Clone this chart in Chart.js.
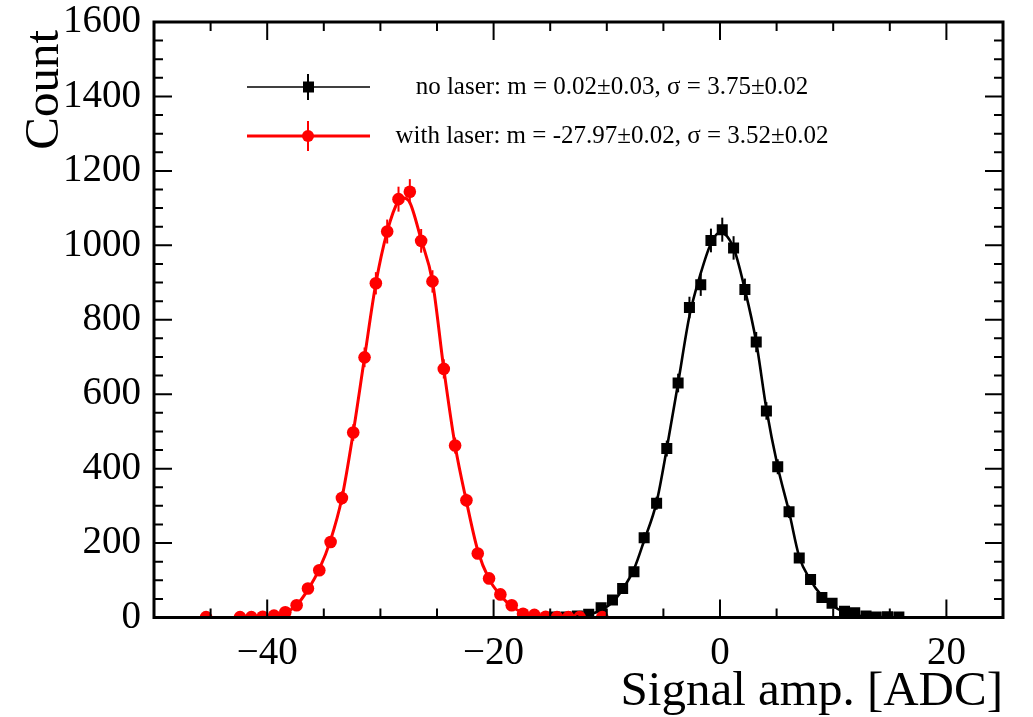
<!DOCTYPE html>
<html>
<head>
<meta charset="utf-8">
<script src="https://cdn.jsdelivr.net/npm/chart.js@4.4.0/dist/chart.umd.min.js"></script>
<style>
  body { margin: 0; background: #fff; }
  canvas { display: block; }
</style>
</head>
<body>
<canvas id="chart" width="1033" height="717"></canvas>
<script>
// histogram bins (empty bins are not drawn)
const redX = [-45.4, -42.4, -41.4, -40.4, -39.4, -38.4, -37.4, -36.4, -35.4, -34.4,
  -33.4, -32.4, -31.4, -30.4, -29.4, -28.4, -27.4, -26.4, -25.4, -24.4,
  -23.4, -22.4, -21.4, -20.4, -19.4, -18.4, -17.4, -16.4, -15.4, -14.4,
  -13.4, -12.4, -10.4];
const redCounts = [1, 1, 1, 2, 5, 14, 33, 78, 127, 203,
  321, 497, 699, 898, 1037, 1124, 1144, 1012, 903, 668,
  462, 315, 172, 105, 62, 33, 10, 7, 2, 1,
  1, 1, 1];

const blackX = [-14.6, -13.6, -12.6, -11.6, -10.5, -9.5, -8.6, -7.6, -6.7, -5.6,
  -4.7, -3.7, -2.7, -1.7, -0.8, 0.2, 1.2, 2.2, 3.2, 4.1,
  5.1, 6.1, 7.0, 8.0, 9.0, 9.9, 11.0, 11.9, 12.9, 13.8,
  14.8, 15.8];
const blackCounts = [1, 1, 4, 9, 26, 47, 78, 123, 214, 307,
  454, 630, 833, 894, 1013, 1042, 993, 881, 740, 555,
  405, 284, 160, 102, 54, 38, 17, 13, 4, 1,
  2, 1];

// gaussian fit curves
const redFitX = [-45.4, -42.4, -40.4, -39.4, -38.4, -37.4, -36.4, -35.4, -34.4, -33.4,
  -32.4, -31.4, -30.4, -29.4, -28.4, -27.97, -27.4, -26.4, -25.4, -24.4,
  -23.4, -22.4, -21.4, -20.4, -19.4, -18.4, -17.4, -16.4, -14.4, -12.4,
  -10.4];
const redFitY = [0, 0, 2, 5, 13, 33, 75, 130, 208, 321,
  497, 699, 898, 1037, 1120, 1127, 1115, 1015, 903, 668,
  462, 312, 180, 103, 60, 30, 13, 5, 1, 0,
  0];

const blackFitX = [-15.8, -14.6, -12.6, -11.6, -10.5, -9.5, -8.6, -7.6, -6.7, -5.6,
  -4.7, -3.7, -2.7, -1.7, -0.8, 0.0, 1.2, 2.2, 3.2, 4.1,
  5.1, 6.1, 7.0, 8.0, 9.0, 9.9, 11.0, 12.0, 13.0, 14.0,
  16.0];
const blackFitY = [0, 0, 3, 8, 20, 41, 76, 130, 207, 310,
  454, 630, 810, 925, 1005, 1035, 993, 881, 740, 560,
  405, 284, 163, 100, 58, 33, 14, 6, 2, 1,
  0];

const xTickValues = [-40, -20, 0, 20];
const yTickValues = [0, 200, 400, 600, 800, 1000, 1200, 1400, 1600];
const legendLabels = [
  'no laser: m = 0.02\u00b10.03, \u03c3 = 3.75\u00b10.02',
  'with laser: m = -27.97\u00b10.02, \u03c3 = 3.52\u00b10.02'
];
const xTitle = 'Signal amp. [ADC]';
const yTitle = 'Count';

const SERIF = '"Liberation Serif", "Times New Roman", serif';
const RED = '#ff0000';
const BLACK = '#000000';

function toPoints(xs, ys) {
  return xs.map((x, i) => ({ x: x, y: ys[i] }));
}

// ROOT look: closed frame, ticks pointing inwards, sqrt(N) error bars, legend, titles
const rootStyle = {
  id: 'rootStyle',
  afterDatasetsDraw(chart) {
    const ctx = chart.ctx;
    const xs = chart.scales.x, ys = chart.scales.y;
    [0, 1].forEach(i => {
      const ds = chart.data.datasets[i];
      ctx.save();
      ctx.strokeStyle = ds.borderColor;
      ctx.lineWidth = 2;
      ds.data.forEach(p => {
        const err = Math.sqrt(p.y);
        const px = xs.getPixelForValue(p.x);
        ctx.beginPath();
        ctx.moveTo(px, ys.getPixelForValue(p.y + err));
        ctx.lineTo(px, ys.getPixelForValue(Math.max(0, p.y - err)));
        ctx.stroke();
      });
      ctx.restore();
    });
  },
  afterDraw(chart) {
    const ctx = chart.ctx;
    const { left, right, top, bottom } = chart.chartArea;
    const xs = chart.scales.x, ys = chart.scales.y;
    ctx.save();
    ctx.strokeStyle = BLACK;

    // ticks
    ctx.lineWidth = 2;
    for (let v = xs.min; v <= xs.max; v += 5) {
      const px = xs.getPixelForValue(v);
      const len = xTickValues.includes(v) ? 18 : 9;
      ctx.beginPath();
      ctx.moveTo(px, bottom); ctx.lineTo(px, bottom - len);
      ctx.moveTo(px, top); ctx.lineTo(px, top + len);
      ctx.stroke();
    }
    for (let v = ys.min; v <= ys.max; v += 50) {
      const py = ys.getPixelForValue(v);
      const len = yTickValues.includes(v) ? 18 : 9;
      ctx.beginPath();
      ctx.moveTo(left, py); ctx.lineTo(left + len, py);
      ctx.moveTo(right, py); ctx.lineTo(right - len, py);
      ctx.stroke();
    }

    // frame
    ctx.lineWidth = 3;
    ctx.strokeRect(left, top, right - left, bottom - top);

    // axis titles
    ctx.fillStyle = BLACK;
    ctx.font = '49px ' + SERIF;
    ctx.textAlign = 'right';
    ctx.textBaseline = 'alphabetic';
    ctx.fillText(xTitle, right, 705);
    ctx.save();
    ctx.translate(58, top + 8);
    ctx.rotate(-Math.PI / 2);
    ctx.fillText(yTitle, 0, 0);
    ctx.restore();

    // legend
    const rows = [
      { y: 87, color: BLACK, width: 1.5, shape: 'rect', err: 13 },
      { y: 136, color: RED, width: 3, shape: 'circle', err: 15 }
    ];
    rows.forEach((r, i) => {
      ctx.strokeStyle = r.color;
      ctx.fillStyle = r.color;
      ctx.lineWidth = r.width;
      ctx.beginPath();
      ctx.moveTo(247, r.y); ctx.lineTo(370, r.y);
      ctx.stroke();
      ctx.lineWidth = 2;
      ctx.beginPath();
      ctx.moveTo(308, r.y - r.err); ctx.lineTo(308, r.y + r.err);
      ctx.stroke();
      ctx.beginPath();
      if (r.shape === 'rect') ctx.rect(303, r.y - 5.5, 11, 11);
      else ctx.arc(308, r.y, 6, 0, Math.PI * 2);
      ctx.fill();
      ctx.fillStyle = BLACK;
      ctx.font = '25px ' + SERIF;
      ctx.textAlign = 'center';
      ctx.textBaseline = 'middle';
      ctx.fillText(legendLabels[i], 612, r.y);
    });
    ctx.restore();
  }
};

const ctx = document.getElementById('chart').getContext('2d');
const chart = new Chart(ctx, {
  type: 'scatter',
  data: {
    datasets: [
      {
        label: 'with laser',
        data: toPoints(redX, redCounts),
        showLine: false,
        pointStyle: 'circle',
        pointRadius: 6.3,
        backgroundColor: RED,
        borderColor: RED,
        borderWidth: 0
      },
      {
        label: 'no laser',
        data: toPoints(blackX, blackCounts),
        showLine: false,
        pointStyle: 'rect',
        pointRadius: 7.8,
        backgroundColor: BLACK,
        borderColor: BLACK,
        borderWidth: 0
      },
      {
        label: 'with laser fit',
        data: toPoints(redFitX, redFitY),
        showLine: true,
        pointRadius: 0,
        borderColor: RED,
        borderWidth: 3,
        cubicInterpolationMode: 'monotone'
      },
      {
        label: 'no laser fit',
        data: toPoints(blackFitX, blackFitY),
        showLine: true,
        pointRadius: 0,
        borderColor: BLACK,
        borderWidth: 2.6,
        cubicInterpolationMode: 'monotone'
      }
    ]
  },
  options: {
    responsive: false,
    animation: false,
    layout: { padding: { top: 22, right: 30, bottom: 0, left: 0 } },
    plugins: {
      legend: { display: false },
      tooltip: { enabled: false }
    },
    scales: {
      x: {
        type: 'linear',
        min: -50,
        max: 25,
        grid: { display: false, drawTicks: false },
        border: { display: false },
        afterBuildTicks: s => { s.ticks = xTickValues.map(v => ({ value: v })); },
        afterFit: s => { s.height = 99.5; s.paddingLeft = 0; s.paddingRight = 0; },
        ticks: {
          autoSkip: false,
          maxRotation: 0,
          padding: 13,
          color: BLACK,
          font: { family: SERIF, size: 39 },
          callback: v => String(v).replace('-', '\u2212')
        }
      },
      y: {
        type: 'linear',
        min: 0,
        max: 1600,
        grid: { display: false, drawTicks: false },
        border: { display: false },
        afterBuildTicks: s => { s.ticks = yTickValues.map(v => ({ value: v })); },
        afterFit: s => { s.width = 154; s.paddingTop = 0; s.paddingBottom = 0; },
        ticks: {
          autoSkip: false,
          padding: 13,
          color: BLACK,
          font: { family: SERIF, size: 39 },
          callback: v => String(v)
        }
      }
    }
  },
  plugins: [rootStyle]
});
</script>
</body>
</html>
